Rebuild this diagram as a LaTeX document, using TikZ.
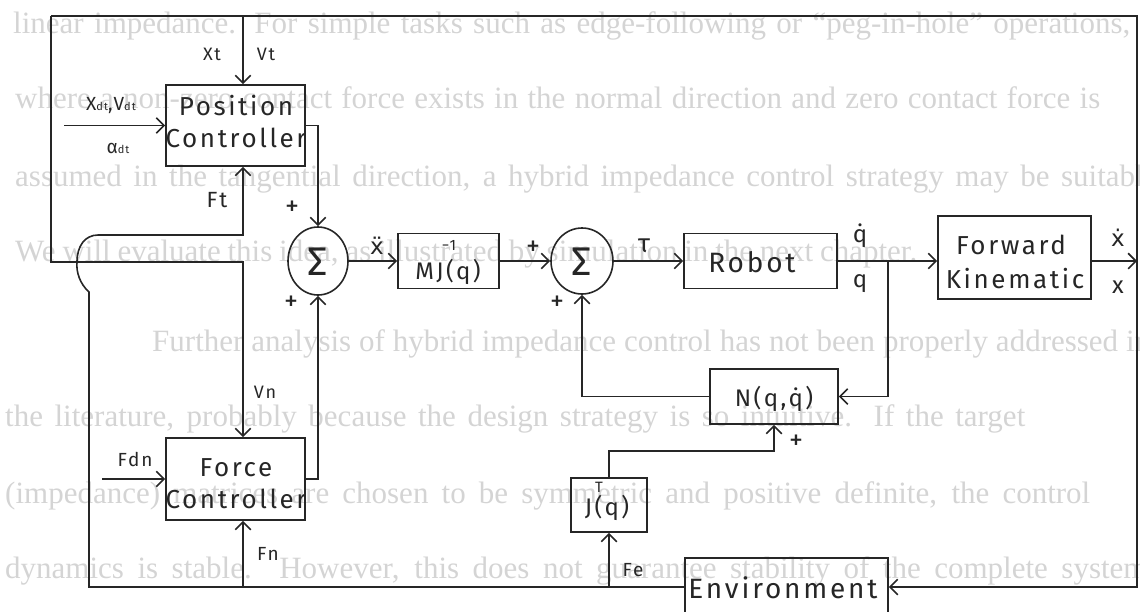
\documentclass[tikz,border=0pt]{standalone}
\usepackage{fontspec}
\setmainfont{Liberation Serif}
\newfontfamily\cad[LetterSpace=10]{Fira Sans}
\newfontfamily\djv{DejaVu Sans}
\newfontfamily\bgf{Liberation Serif}
\usetikzlibrary{arrows.meta,shapes.geometric}
\newcommand\fsz[2]{\fontsize{#1}{#2}\selectfont}
\tikzset{
  ln/.style={line width=1.6pt, draw=black!85},
  arr/.style={ln, -{Straight Barb[angle=90:11pt]}},
  box/.style={ln, rectangle, inner sep=0pt},
  sum/.style={ln, ellipse, inner sep=0pt},
  txt/.style={inner sep=0pt, text=black!85, font=\cad\fsz{26}{30}},
  lbl/.style={inner sep=0pt, text=black!85, font=\cad\fsz{19}{22}},
  pl/.style={inner sep=0pt, text=black!85, font=\cad\fsz{28}{30}},
  bg/.style={inner sep=0pt, anchor=base west, text=black!17, font=\bgf\fsz{31}{36}}
}
\begin{document}
\begin{tikzpicture}[x=1pt,y=-1pt]
\useasboundingbox (0,0) rectangle (1140,611);
\clip (0,0) rectangle (1140,611);
% faint page text behind the figure
\node[bg] (b1) at (13,33) {\makebox[1117pt][s]{linear impedance. For simple tasks such as edge-following or “peg-in-hole” operations,}};
\node[bg] (b2) at (15,108) {\makebox[1085pt][s]{where a non-zero contact force exists in the normal direction and zero contact force is}};
\node[bg] (b3) at (15,186) {\makebox[1150pt][s]{assumed in the tangential direction, a hybrid impedance control strategy may be suitable.}};
\node[bg] (b4) at (15,261) {\makebox[902pt][s]{We will evaluate this idea, as illustrated by simulation in the next chapter.}};
\node[bg] (b5) at (152,351) {\makebox[998pt][s]{Further analysis of hybrid impedance control has not been properly addressed in}};
\node[bg] (b6) at (5,426) {\makebox[1020pt][s]{the literature, probably because the design strategy is so intuitive. If the target}};
\node[bg] (b7) at (5,503) {\makebox[1085pt][s]{(impedance) matrices are chosen to be symmetric and positive definite, the control}};
\node[bg] (b8) at (5,578) {\makebox[1150pt][s]{dynamics is stable. However, this does not guarantee stability of the complete system.}};

% blocks
\node[box, minimum width=139pt, minimum height=81pt] (pc) at (235.5,125.5) {};
\node[box, minimum width=139pt, minimum height=82pt] (fc) at (235.5,479) {};
\node[sum, minimum width=60pt, minimum height=68pt] (s1) at (318,261) {};
\node[box, minimum width=101pt, minimum height=55pt] (mj) at (448.5,261) {};
\node[sum, minimum width=62pt, minimum height=66pt] (s2) at (582,261) {};
\node[box, minimum width=153pt, minimum height=55pt] (rob) at (760.5,261) {};
\node[box, minimum width=153pt, minimum height=83pt] (fk) at (1014.5,257.5) {};
\node[box, minimum width=128pt, minimum height=55pt] (nq) at (774,396.5) {};
\node[box, minimum width=76pt, minimum height=54pt] (jt) at (609,505) {};
\node[box, minimum width=203pt, minimum height=58pt] (env) at (786.5,587) {};

% texts in blocks
\node[txt] (pct) at (236,106) {Position};
\node[txt] (pcc) at (236,138) {Controller};
\node[txt] (fct) at (236,468) {Force};
\node[txt] (fcc) at (236,499) {Controller};
\node[txt, font=\cad\fsz{40}{40}] (s1t) at (318,262) {Σ};
\node[txt, font=\cad\fsz{40}{40}] (s2t) at (582,262) {Σ};
\node[txt, font=\cad\fsz{24}{28}] (mjt) at (448,272) {MJ(q)};
\node[txt, font=\cad\fsz{15}{16}] (mjs) at (449,245) {−1};
\node[txt, font=\cad\fsz{28}{32}] (robt) at (752,262) {Robot};
\node[txt] (fkt) at (1011,245) {Forward};
\node[txt] (fkk) at (1015,279) {Kinematic};
\node[txt, font=\cad\fsz{24}{28}] (nqt) at (774,399) {N(q,q̇)};
\node[txt, font=\cad\fsz{24}{28}] (jtt) at (607,508) {J(q)};
\node[txt, font=\cad\fsz{15}{16}] (jts) at (599,487) {T};
\node[txt, font=\cad\fsz{28}{32}] (envt) at (783,588) {Environment};

% connector coordinates
\coordinate (tl) at (51,16);
\coordinate (tr) at (1137,16);
\coordinate (xt) at (243,16);
\coordinate (lc) at (51,262);
\coordinate (vnj) at (243,262);
\coordinate (pin) at (64,125.5);
\coordinate (fdn) at (102,479);
\coordinate (qj) at (888,261);
\coordinate (jtc) at (774,451);
\coordinate (blc) at (89,587);
\coordinate (hopb) at (89,292);
\coordinate (hopm) at (77,262);
\coordinate (hopt) at (98,235);
\coordinate (ftj) at (243,235);
\coordinate (fnj) at (243,587);
\coordinate (fej) at (609,587);

% connectors
\draw[arr] (pin) -- (pc.west);
\draw[arr] (xt) -- (xt |- pc.north);
\draw[arr] (tl) -- (tr) -- (tr |- env.east) -- (env.east);
\draw[arr] (tl) -- (lc) -- (vnj) -- (vnj |- fc.north);
\draw[arr] (pc.east) -| (s1.north);
\draw[arr] (fc.east) -| (s1.south);
\draw[arr] (fdn) -- (fc.west);
\draw[arr] (s1.east) -- (mj.west);
\draw[arr] (mj.east) -- (s2.west);
\draw[arr] (s2.east) -- (rob.west);
\draw[arr] (rob.east) -- (rob.east -| fk.west);
\draw[arr] (qj) |- (nq.east);
\draw[arr] (nq.west) -| (s2.south);
\draw[arr] (jt.north) |- (jtc) -- (nq.south);
\draw[arr] (fk.east |- rob.east) -- (tr |- rob.east);
\draw[arr] (env.west) -- (blc) -- (hopb) .. controls (80,284) and (76,272) .. (hopm)
  .. controls (77,246) and (85,235) .. (hopt) -- (ftj) -- (ftj |- pc.south);
\draw[arr] (fnj) -- (fnj |- fc.south);
\draw[arr] (fej) -- (jt.south);

% signal labels
\node[lbl, font=\cad\fsz{18}{20}] (lxt) at (212,54) {Xt};
\node[lbl, font=\cad\fsz{18}{20}] (lvt) at (266,54) {Vt};
\node[lbl] (lxd) at (111,106) {X{\fsz{11}{12}dt},V{\fsz{11}{12}dt}};
\node[lbl, font=\cad\fsz{19}{20}] (lqd) at (118,148) {α{\fsz{11}{12}dt}};
\node[lbl, font=\cad\fsz{22}{24}] (lft) at (217,200) {Ft};
\node[lbl, font=\cad\fsz{18}{20}] (lvn) at (265,392) {Vn};
\node[lbl] (lfdn) at (135,459) {Fdn};
\node[lbl] (lfn) at (268,554) {Fn};
\node[lbl] (lfe) at (633,570) {Fe};
\node[pl] (p1) at (292,208) {+};
\node[pl] (p2) at (291,303) {+};
\node[pl] (p3) at (533,248) {+};
\node[pl] (p4) at (557,303) {+};
\node[pl] (p5) at (796,442) {+};
\node[lbl, font=\djv\fsz{23}{26}] (lxdd) at (377,246) {ẍ};
\node[lbl, font=\cad\fsz{26}{28}] (ltau) at (644,246) {τ};
\node[lbl, font=\cad\fsz{24}{26}] (lqd1) at (860,236) {q̇};
\node[lbl, font=\cad\fsz{24}{26}] (lq) at (860,284) {q};
\node[lbl, font=\djv\fsz{23}{26}] (lxd1) at (1118,238) {ẋ};
\node[lbl, font=\cad\fsz{24}{26}] (lx) at (1118,287) {x};
\end{tikzpicture}
\end{document}
